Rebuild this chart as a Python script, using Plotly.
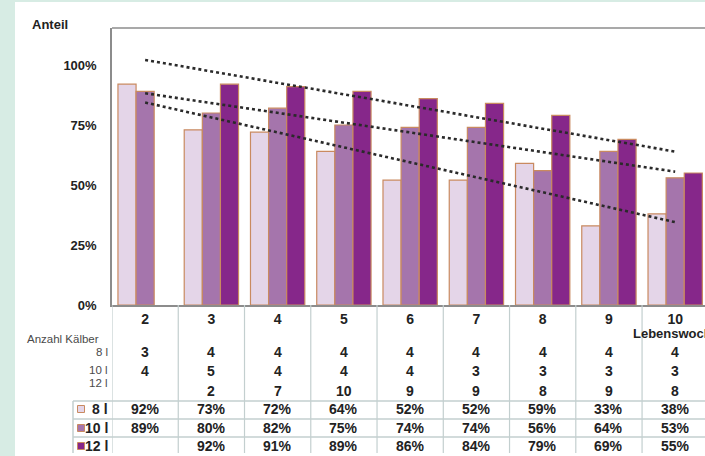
import numpy as np
import plotly.graph_objects as go

# Lebenswoche (week of life)
weeks = [2, 3, 4, 5, 6, 7, 8, 9, 10]
series_names = ["8 l", "10 l", "12 l"]

# share of calves (%) per milk-allowance group
share_8l = [92, 73, 72, 64, 52, 52, 59, 33, 38]
share_10l = [89, 80, 82, 75, 74, 74, 56, 64, 53]
share_12l = [None, 92, 91, 89, 86, 84, 79, 69, 55]

# number of calves per group
count_8l = [3, 4, 4, 4, 4, 4, 4, 4, 4]
count_10l = [4, 5, 4, 4, 4, 3, 3, 3, 3]
count_12l = [None, 2, 7, 10, 9, 9, 8, 9, 8]

y_ticks = [0, 25, 50, 75, 100]

colors = ["#e4d5e8", "#a575ac", "#86278a"]
outline = "#c98a60"
FONT = "Liberation Sans, Arial, sans-serif"
TXT = "#222222"
GRID = "#c3cfcf"

W, H = 705, 456
L, R, T, B = 112, 0, 28, 151
PW, PH = W - L - R, H - T - B
Y_MAX = 100 * PH / 240.0


def px(x):
    return (x - L) / PW


def py(y):
    return (H - B - y) / PH


fig = go.Figure()

shares = [share_8l, share_10l, share_12l]
counts = [count_8l, count_10l, count_12l]

for name, vals, col in zip(series_names, shares, colors):
    fig.add_trace(go.Bar(
        x=weeks, y=vals, name=name,
        marker=dict(color=col, line=dict(color=outline, width=1.2)),
    ))

# linear trend lines, evaluated from first to last week
for vals in shares:
    xs = np.array([w for w, v in zip(weeks, vals) if v is not None], float)
    ys = np.array([v for v in vals if v is not None], float)
    k, d = np.polyfit(xs, ys, 1)
    xe = np.array([weeks[0], weeks[-1]], float)
    fig.add_trace(go.Scatter(
        x=xe, y=k * xe + d, mode="lines",
        line=dict(color="#2a2a2a", width=2.6, dash="3px,3px"),
        hoverinfo="skip",
    ))

shapes = []
# white panel over the mint page background
shapes.append(dict(type="rect", xref="paper", yref="paper",
                   x0=px(15), x1=px(W + 5), y0=py(H + 5), y1=py(2),
                   fillcolor="white", line=dict(width=0), layer="below"))
# top frame line of the plot area
shapes.append(dict(type="line", xref="paper", yref="paper",
                   x0=0, x1=1, y0=1, y1=1, line=dict(color="#8c8c8c", width=1.5)))
# table: vertical separators between weeks
for k in range(len(weeks)):
    xv = weeks[k] - 0.5
    shapes.append(dict(type="line", xref="x", yref="paper",
                       x0=xv, x1=xv, y0=0, y1=py(453),
                       line=dict(color=GRID, width=1.2)))
# table: horizontal rules of the percentage block
for yy in [401, 419, 437]:
    shapes.append(dict(type="line", xref="paper", yref="paper",
                       x0=px(73), x1=1, y0=py(yy), y1=py(yy),
                       line=dict(color=GRID, width=1.5)))
shapes.append(dict(type="line", xref="paper", yref="paper",
                   x0=px(73), x1=px(73), y0=py(401), y1=py(453),
                   line=dict(color=GRID, width=1.5)))
# legend keys inside the table
for col, yy in zip(colors, [409, 428, 446]):
    shapes.append(dict(type="rect", xref="paper", yref="paper",
                       x0=px(77.5), x1=px(84.5), y0=py(yy + 3.5), y1=py(yy - 3.5),
                       fillcolor=col, line=dict(color=outline, width=1)))

ann = []
ann.append(dict(text="<b>Anteil</b>", xref="paper", yref="paper", x=px(30), y=py(24),
                xanchor="left", yanchor="middle", showarrow=False,
                font=dict(family=FONT, size=13, color=TXT)))
ann.append(dict(text="Anzahl Kälber", xref="paper", yref="paper", x=px(101), y=py(339),
                xanchor="right", yanchor="middle", showarrow=False,
                font=dict(family=FONT, size=11.5, color="#4a4a4a")))
ann.append(dict(text="<b>Lebenswoche</b>", xref="paper", yref="paper", x=px(631), y=py(333),
                xanchor="left", yanchor="middle", showarrow=False,
                font=dict(family=FONT, size=13, color=TXT)))

# calf counts
for name, cnts, ylab, yval in zip(series_names, counts, [352, 370, 383], [352, 371, 391]):
    ann.append(dict(text=name, xref="paper", yref="paper", x=px(110), y=py(ylab),
                    xanchor="right", yanchor="middle", showarrow=False,
                    font=dict(family=FONT, size=11.5, color="#4a4a4a")))
    for w, c in zip(weeks, cnts):
        if c is None:
            continue
        ann.append(dict(text=f"<b>{c}</b>", xref="x", yref="paper", x=w, y=py(yval),
                        xanchor="center", yanchor="middle", showarrow=False,
                        font=dict(family=FONT, size=14, color=TXT)))

# percentage table
for name, vals, yy in zip(series_names, shares, [409, 428, 446]):
    ann.append(dict(text=f"<b>{name}</b>", xref="paper", yref="paper", x=px(110), y=py(yy),
                    xanchor="right", yanchor="middle", showarrow=False,
                    font=dict(family=FONT, size=14, color=TXT)))
    for w, v in zip(weeks, vals):
        if v is None:
            continue
        ann.append(dict(text=f"<b>{v}%</b>", xref="x", yref="paper", x=w, y=py(yy),
                        xanchor="center", yanchor="middle", showarrow=False,
                        font=dict(family=FONT, size=14, color=TXT)))

fig.update_layout(
    width=W, height=H,
    margin=dict(l=L, r=R, t=T, b=B, pad=0),
    paper_bgcolor="#d7ece4", plot_bgcolor="white",
    barmode="group", bargap=0.18, bargroupgap=0,
    showlegend=False,
    shapes=shapes, annotations=ann,
    xaxis=dict(range=[1.5, 10.45], tickvals=weeks,
               ticktext=[f"<b>{w}</b>" for w in weeks],
               tickfont=dict(family=FONT, size=14, color=TXT),
               showgrid=False, zeroline=False, ticks="",
               showline=True, linecolor="#8c8c8c", linewidth=1.5,
               fixedrange=True),
    yaxis=dict(range=[0, Y_MAX], tickvals=y_ticks,
               ticktext=[f"<b>{t}%</b>" for t in y_ticks],
               tickfont=dict(family=FONT, size=13, color=TXT),
               showgrid=False, zeroline=False, ticks="",
               ticklabelstandoff=11,
               showline=True, linecolor="#8c8c8c", linewidth=1.5,
               fixedrange=True),
)

fig.write_html("out.html", config={"displayModeBar": False})
